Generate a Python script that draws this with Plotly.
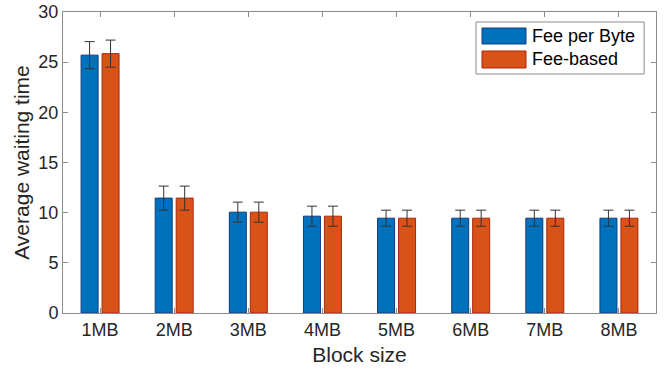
import plotly.graph_objects as go

block_sizes = ["1MB", "2MB", "3MB", "4MB", "5MB", "6MB", "7MB", "8MB"]
fee_per_byte = [25.7, 11.45, 10.05, 9.65, 9.45, 9.45, 9.45, 9.45]
fee_per_byte_err = [1.35, 1.2, 1.0, 1.0, 0.8, 0.8, 0.8, 0.8]
fee_based = [25.85, 11.45, 10.05, 9.65, 9.45, 9.45, 9.45, 9.45]
fee_based_err = [1.35, 1.2, 1.0, 1.0, 0.8, 0.8, 0.8, 0.8]

font = "Liberation Sans, Arial, Helvetica, sans-serif"
colors = ["#0072BD", "#D95319"]
edges = ["#123a7a", "#a8260c"]

fig = go.Figure()
fig.add_trace(go.Bar(
    x=block_sizes, y=fee_per_byte, name="Fee per Byte",
    marker=dict(color=colors[0], line=dict(color=edges[0], width=1)),
    error_y=dict(type="data", array=fee_per_byte_err, color="#333333",
                 thickness=1, width=5),
))
fig.add_trace(go.Bar(
    x=block_sizes, y=fee_based, name="Fee-based",
    marker=dict(color=colors[1], line=dict(color=edges[1], width=1)),
    error_y=dict(type="data", array=fee_based_err, color="#333333",
                 thickness=1, width=5),
))

axis_style = dict(
    showline=True, linecolor="#8c8c8c", linewidth=1, mirror="allticks",
    ticks="inside", ticklen=5, tickcolor="#8c8c8c", showgrid=False,
    zeroline=False, automargin=False, ticklabeloverflow="allow",
    tickfont=dict(size=18, color="#262626", family=font),
)

# MATLAB-style legend box with wide swatches
fig.add_shape(type="rect", xref="paper", yref="paper",
              x0=0.6965, x1=0.98, y0=0.794, y1=0.9668,
              line=dict(color="#8c8c8c", width=1), fillcolor="white")
for i, (tr, y0, y1) in enumerate([(fig.data[0], 0.8937, 0.9468),
                                  (fig.data[1], 0.814, 0.8704)]):
    fig.add_shape(type="rect", xref="paper", yref="paper",
                  x0=0.7066, x1=0.7808, y0=y0, y1=y1,
                  line=dict(color=edges[i], width=1), fillcolor=colors[i])
    fig.add_annotation(xref="paper", yref="paper", x=0.7875, y=(y0 + y1) / 2,
                       text=tr.name, showarrow=False, xanchor="left",
                       yanchor="middle", font=dict(size=18, family=font, color="#000000"))

fig.update_layout(
    width=664, height=374,
    margin=dict(l=63, r=8, t=12, b=61),
    plot_bgcolor="white", paper_bgcolor="white",
    barmode="group", bargap=0.434, bargroupgap=0.19,
    showlegend=False,
    font=dict(family=font, color="#262626"),
    xaxis=dict(axis_style, type="category", range=[-0.5, 7.5],
               title=dict(text="Block size", font=dict(size=21, family=font), standoff=8)),
    yaxis=dict(axis_style, range=[0, 30], dtick=5,
               title=dict(text="Average waiting time", font=dict(size=21, family=font), standoff=3)),
)

# drop the default 8px page margin so the figure fills the window exactly
fig.write_html("out.html", config={"displayModeBar": False},
               post_script="document.body.style.margin='0';document.body.style.overflow='hidden';")
